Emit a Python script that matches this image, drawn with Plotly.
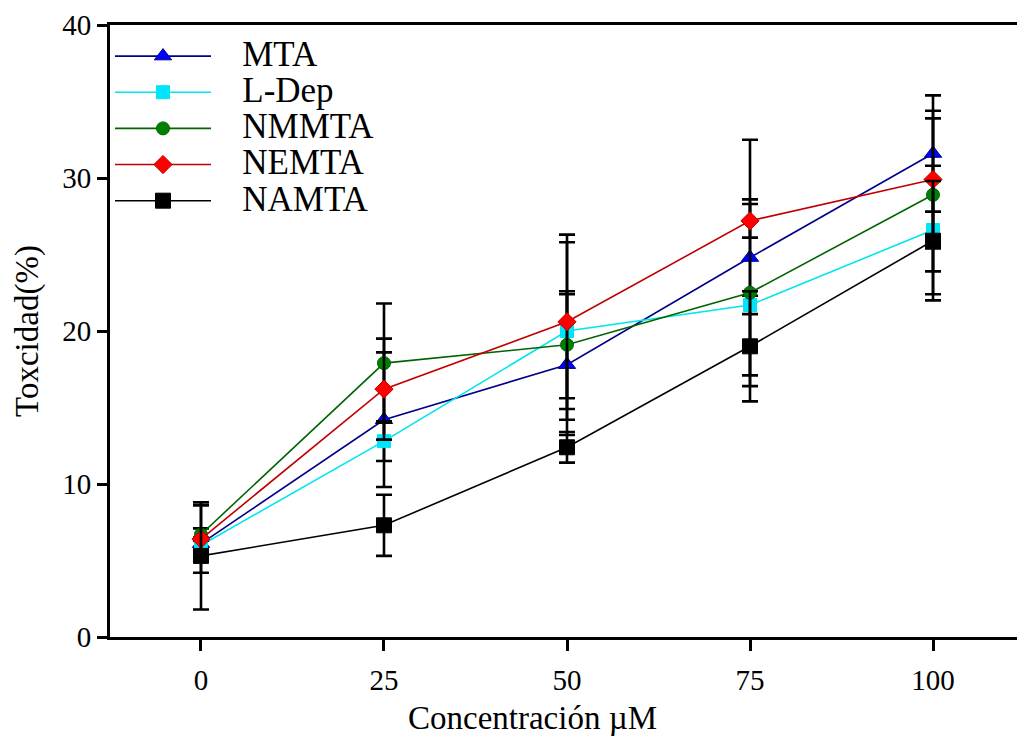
import plotly.graph_objects as go

conc = [0, 25, 50, 75, 100]

mta = [6.1, 14.2, 17.8, 24.8, 31.6]
mta_err = [0.4, 4.4, 4.6, 7.7, 3.8]

ldep = [6.0, 12.8, 20.0, 21.7, 26.6]
ldep_err = [0.4, 1.3, 5.8, 0.6, 4.2]

nmmta = [6.7, 17.9, 19.1, 22.5, 28.9]
nmmta_err = [0.4, 3.9, 3.5, 6.1, 5.0]

nemta = [6.4, 16.2, 20.6, 27.2, 29.9]
nemta_err = [2.2, 3.3, 5.7, 1.1, 4.5]

namta = [5.3, 7.3, 12.4, 19.0, 25.9]
namta_err = [3.5, 2.0, 1.0, 3.6, 3.9]

series = [
    ("MTA", mta, mta_err, "#00008B", "#0000FF", "triangle-up", 15),
    ("L-Dep", ldep, ldep_err, "#00E5EE", "#00E5FF", "square", 13),
    ("NMMTA", nmmta, nmmta_err, "#006400", "#008000", "circle", 13),
    ("NEMTA", nemta, nemta_err, "#C00000", "#FF0000", "diamond", 14),
    ("NAMTA", namta, namta_err, "#000000", "#000000", "square", 15),
]

font_family = "Liberation Serif, Times New Roman, serif"

fig = go.Figure()
for name, y, err, lc, mc, sym, ms in series:
    label = "<span style='font-size:35px'>\u00a0\u00a0\u00a0" + name + "</span>"
    fig.add_trace(go.Scatter(
        x=conc, y=y, name=label, mode="lines+markers",
        line=dict(color=lc, width=1.6),
        marker=dict(symbol=sym, size=ms, color=mc,
                    line=dict(color=lc, width=1)),
        error_y=dict(type="data", array=err, visible=True,
                     color="black", thickness=2.6, width=8),
    ))

# page body has an 8px margin, so plot-area margins are offset by 8px
ML, MT, MB, MR = 102, 17, 115, 0
PLOT_W = 1025 - ML - MR
PLOT_H = 744 - MT - MB

fig.update_layout(
    width=1025, height=744,
    margin=dict(l=ML, r=MR, t=MT, b=MB, autoexpand=False),
    paper_bgcolor="white", plot_bgcolor="white",
    font=dict(family=font_family, color="black"),
    showlegend=True,
    legend=dict(x=0.0, y=1.0 - 8 / PLOT_H, xanchor="left", yanchor="top",
                bgcolor="rgba(0,0,0,0)", font=dict(size=25.5, family=font_family),
                itemwidth=96, tracegroupgap=0),
    xaxis=dict(range=[-12.43, 113.66], tickvals=conc, ticktext=[str(c) for c in conc],
               showgrid=False, zeroline=False, showline=True, linecolor="black",
               linewidth=3, mirror=True, ticks="outside", ticklen=11, tickwidth=2.5,
               tickcolor="black", tickfont=dict(size=29), automargin=False,
               ticklabelstandoff=4),
    yaxis=dict(range=[0, 40], tickvals=[0, 10, 20, 30, 40],
               showgrid=False, zeroline=False, showline=True, linecolor="black",
               linewidth=3, mirror=False, ticks="outside", ticklen=10, tickwidth=2.5,
               tickcolor="black", tickfont=dict(size=29), automargin=False,
               title=dict(text="Toxcidad(%)", font=dict(size=33), standoff=14)),
    annotations=[dict(text="Concentración µM", xref="paper", yref="paper",
                      x=(532 - 110) / PLOT_W, y=-(718 - 637) / PLOT_H,
                      xanchor="center", yanchor="middle", showarrow=False,
                      font=dict(size=33, family=font_family))],
)

fig.write_html("out.html")
